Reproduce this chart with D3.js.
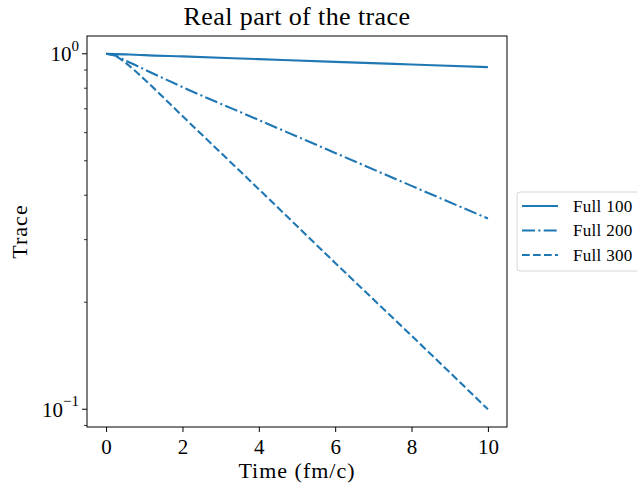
<!DOCTYPE html>
<html>
<head>
<meta charset="utf-8">
<script src="https://cdn.jsdelivr.net/npm/d3@7"></script>
<style>
  body { margin: 0; background: #fff; }
  text { font-family: "Liberation Serif", "DejaVu Serif", serif; fill: #000; }
</style>
</head>
<body>
<script>
// time grid (fm/c) and the three traces
const times = [0, 0.25, 0.5, 0.75, 1, 2, 4, 6, 8, 10];
const full100 = [1.0, 0.998, 0.996, 0.994, 0.991, 0.983, 0.966, 0.949, 0.933, 0.917];
const full200 = [1.0, 0.987, 0.958, 0.931, 0.904, 0.806, 0.651, 0.526, 0.425, 0.344];
const full300 = [1.0, 0.985, 0.945, 0.897, 0.848, 0.668, 0.416, 0.258, 0.161, 0.100];
const seriesNames = ["Full 100", "Full 200", "Full 300"];
const xTicks = [0, 2, 4, 6, 8, 10];

const W = 637, H = 483;
const margin = {top: 36, right: 130, bottom: 56, left: 87};
const width = 507 - margin.left, height = 427 - margin.top;
const color = "#1f77b4";
const dashes = ["none", "13,3.3,2.1,3.3", "7.7,3.3"];

const svg = d3.select("body").append("svg")
    .attr("width", W).attr("height", H);
const g = svg.append("g")
    .attr("transform", `translate(${margin.left},${margin.top})`);

// scales, with matplotlib style 5% margins
const x = d3.scaleLinear().domain([-0.5, 10.5]).range([0, width]);
const yMin = 0.1, yMax = 1.0;
const pad = 0.05 * (Math.log10(yMax) - Math.log10(yMin));
const y = d3.scaleLog()
    .domain([Math.pow(10, Math.log10(yMin) - pad), Math.pow(10, Math.log10(yMax) + pad)])
    .range([height, 0]);

const series = [full100, full200, full300].map((vals, i) => ({
    name: seriesNames[i],
    dash: dashes[i],
    values: times.map((t, j) => ({t: t, v: vals[j]}))
}));

const line = d3.line()
    .x(d => x(d.t))
    .y(d => y(d.v))
    .curve(d3.curveMonotoneX);

g.append("g").selectAll("path")
    .data(series)
    .join("path")
    .attr("fill", "none")
    .attr("stroke", color)
    .attr("stroke-width", 2.1)
    .attr("stroke-dasharray", d => d.dash)
    .attr("d", d => line(d.values));

// x axis
const xAxis = g.append("g")
    .attr("transform", `translate(0,${height})`)
    .call(d3.axisBottom(x).tickValues(xTicks).tickSize(5).tickPadding(7).tickFormat(d3.format("d")));
xAxis.select(".domain").remove();
xAxis.selectAll("text").style("font-size", "21px").attr("font-family", null);
xAxis.selectAll("line").attr("stroke", "#000").attr("stroke-width", 1);

// y axis: minor ticks
const minor = [0.09, 0.2, 0.3, 0.4, 0.5, 0.6, 0.7, 0.8, 0.9];
g.append("g").selectAll("line")
    .data(minor)
    .join("line")
    .attr("x1", -3).attr("x2", 0)
    .attr("y1", d => y(d)).attr("y2", d => y(d))
    .attr("stroke", "#000").attr("stroke-width", 0.8);

const major = [0.1, 1];
const yMaj = g.append("g").selectAll("g")
    .data(major)
    .join("g")
    .attr("transform", d => `translate(0,${y(d)})`);
yMaj.append("line").attr("x1", -5).attr("x2", 0).attr("stroke", "#000");
const lbl = yMaj.append("text")
    .attr("x", -8)
    .attr("dy", "0.35em")
    .attr("text-anchor", "end")
    .style("font-size", "21px");
lbl.append("tspan").text("10");
lbl.append("tspan")
    .attr("dy", "-0.7em")
    .style("font-size", "15px")
    .text(d => d === 1 ? "0" : "\u22121");

// frame
g.append("rect")
    .attr("width", width).attr("height", height)
    .attr("fill", "none").attr("stroke", "#000").attr("stroke-width", 1);

// titles
svg.append("text")
    .attr("x", margin.left + width / 2).attr("y", 25)
    .attr("text-anchor", "middle")
    .style("font-size", "26px")
    .style("letter-spacing", "0.4px")
    .text("Real part of the trace");
svg.append("text")
    .attr("x", margin.left + width / 2).attr("y", 478)
    .attr("text-anchor", "middle")
    .style("font-size", "22px")
    .style("letter-spacing", "1px")
    .text("Time (fm/c)");
svg.append("text")
    .attr("transform", `translate(27,${margin.top + height / 2}) rotate(-90)`)
    .attr("text-anchor", "middle")
    .style("font-size", "22px")
    .style("letter-spacing", "1px")
    .text("Trace");

// legend
const leg = svg.append("g").attr("transform", "translate(517,192)");
leg.append("rect")
    .attr("width", 125).attr("height", 79).attr("rx", 3)
    .attr("fill", "#fff").attr("fill-opacity", 0.8)
    .attr("stroke", "#d6d6d6");
const items = leg.selectAll("g.item")
    .data(series)
    .join("g")
    .attr("class", "item")
    .attr("transform", (d, i) => `translate(0,${14 + i * 24.5})`);
items.append("line")
    .attr("x1", 5).attr("x2", 41)
    .attr("stroke", color).attr("stroke-width", 2.1)
    .attr("stroke-dasharray", d => d.dash);
items.append("text")
    .attr("x", 56).attr("dy", "0.35em")
    .style("font-size", "17px")
    .style("letter-spacing", "0.3px")
    .text(d => d.name);
</script>
</body>
</html>
